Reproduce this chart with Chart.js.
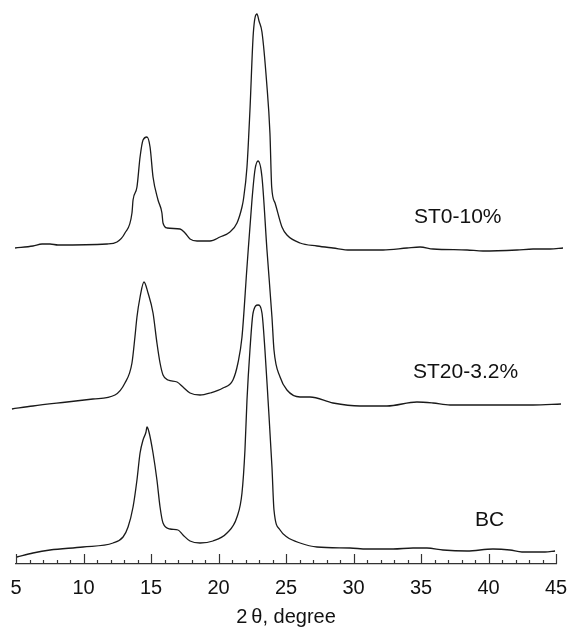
<!DOCTYPE html>
<html>
<head>
<meta charset="utf-8">
<title>XRD patterns - BC, ST20-3.2%, ST0-10%</title>
<script src="https://cdn.jsdelivr.net/npm/chart.js"></script>
<style>
	html, body { margin: 0; padding: 0; background: #fff; }
	#wrap { position: relative; width: 567px; height: 629px; }
</style>
</head>
<body>
<div id="wrap"><canvas id="xrdChart"></canvas></div>
<script>
// 2-theta positions (degree) and stacked intensities (a.u., offset per curve)
const st0Angle = [4.93, 6.26, 6.93, 7.52, 8.11, 11.74, 12.48, 13.07, 13.59, 13.67, 13.96, 14.19, 14.41, 14.70,
	14.93, 15.15, 15.52, 15.81, 15.89, 16.19, 17.15, 17.52, 17.89, 18.41, 19.37, 20.11, 20.85, 21.37,
	21.74, 21.84, 22.11, 22.33, 22.58, 22.85, 23.00, 23.22, 23.57, 23.81, 23.94, 24.19, 24.70, 25.07,
	26.04, 27.30, 28.48, 29.74, 32.19, 33.96, 34.93, 35.89, 38.41, 39.59, 42.11, 43.30, 44.56, 45.52];
const st0Counts = [316, 318, 320, 320, 319, 320, 322, 331, 351, 364, 377, 407, 424, 427,
	417, 387, 364, 351, 341, 336, 335, 331, 325, 323, 323, 327, 332, 341,
	357, 364, 397, 454, 531, 550, 543, 532, 481, 431, 377, 361, 337, 329,
	321, 318, 316, 314, 314, 316, 317, 315, 314, 313, 314, 315, 315, 316];

const st20Angle = [4.70, 6.26, 8.78, 10.70, 12.33, 13.07, 13.59, 13.81, 13.96, 14.19, 14.48, 14.78, 15.15,
	15.44, 15.67, 15.89, 16.26, 16.93, 17.37, 17.89, 18.63, 19.37, 20.33, 21.07, 21.44, 21.74, 22.11,
	22.48, 22.70, 22.93, 23.22, 23.59, 23.96, 24.11, 24.56, 25.07, 26.04, 26.78, 28.48, 30.48, 32.48,
	34.70, 35.89, 37.15, 40.85, 43.30, 45.37];
const st20Counts = [155, 158, 162, 165, 169, 181, 201, 227, 247, 267, 282, 271, 251,
	221, 201, 189, 184, 182, 177, 171, 169, 171, 176, 184, 201, 227, 297,
	364, 394, 403, 387, 314, 247, 214, 187, 174, 167, 167, 161, 158, 158,
	162, 161, 159, 159, 159, 160];

const bcAngle = [5.07, 6.26, 7.52, 9.96, 12.19, 12.93, 13.30, 13.67, 13.96, 14.19, 14.41, 14.63, 14.70, 14.85,
	15.15, 15.44, 15.67, 15.89, 16.41, 17.00, 17.37, 17.89, 18.63, 19.59, 20.63, 21.37, 21.74, 21.96,
	22.11, 22.33, 22.56, 22.93, 23.22, 23.44, 23.67, 23.96, 24.11, 24.56, 25.07, 26.04, 27.30, 29.74,
	31.00, 32.93, 34.41, 35.44, 36.63, 38.41, 40.33, 41.59, 42.48, 44.19, 44.93];
const bcCounts = [7, 11, 14, 17, 21, 27, 37, 57, 84, 111, 124, 132, 137, 132,
	111, 84, 57, 41, 35, 34, 29, 23, 21, 23, 31, 47, 71, 114,
	164, 214, 251, 259, 251, 214, 164, 97, 54, 34, 27, 21, 17, 16,
	15, 15, 16, 16, 14, 13, 15, 14, 12, 12, 13];

const sampleNames = ["ST0-10%", "ST20-3.2%", "BC"];
const xTickLabels = [5, 10, 15, 20, 25, 30, 35, 40, 45];

function toPoints(xs, ys) {
	return xs.map((x, i) => ({ x: x, y: ys[i] }));
}

const curveLabelPlugin = {
	id: "curveLabels",
	afterDraw(chart, args, opts) {
		const { ctx, scales } = chart;
		const xs = scales.x;
		const ys = scales.y;
		ctx.save();

		// inward tick marks on the 2-theta axis
		ctx.strokeStyle = "#333";
		ctx.lineWidth = 1.2;
		const base = ys.getPixelForValue(0);
		for (let t = xs.min; t <= xs.max; t++) {
			const px = Math.round(xs.getPixelForValue(t)) + 0.5;
			const len = t % 5 === 0 ? 10 : 4;
			ctx.beginPath();
			ctx.moveTo(px, base);
			ctx.lineTo(px, base - len);
			ctx.stroke();
		}

		// sample names next to each curve
		ctx.fillStyle = "#111";
		ctx.font = "21px 'Liberation Sans', Arial, sans-serif";
		ctx.textAlign = "left";
		ctx.textBaseline = "middle";
		opts.items.forEach((item, i) => {
			ctx.fillText(sampleNames[i], xs.getPixelForValue(item.at[0]), ys.getPixelForValue(item.at[1]));
		});
		ctx.restore();
	},
};

const lineStyle = {
	borderColor: "#1a1a1a",
	borderWidth: 1.3,
	pointRadius: 0,
	fill: false,
	cubicInterpolationMode: "monotone",
	clip: false,
};

const ctx = document.getElementById("xrdChart").getContext("2d");
new Chart(ctx, {
	type: "line",
	data: {
		datasets: [
			{ label: sampleNames[0], data: toPoints(st0Angle, st0Counts), ...lineStyle },
			{ label: sampleNames[1], data: toPoints(st20Angle, st20Counts), ...lineStyle },
			{ label: sampleNames[2], data: toPoints(bcAngle, bcCounts), ...lineStyle },
		],
	},
	options: {
		responsive: true,
		maintainAspectRatio: false,
		animation: false,
		layout: { padding: { left: 16, right: 11, top: 0, bottom: 0 } },
		scales: {
			x: {
				type: "linear",
				min: 5,
				max: 45,
				afterBuildTicks: (axis) => {
					axis.ticks = xTickLabels.map((v) => ({ value: v }));
				},
				afterFit: (axis) => {
					// keep the plot width fixed, labels may hang over the edges
					axis.paddingLeft = 0;
					axis.paddingRight = 0;
					axis.height = 65;
				},
				grid: { display: false, drawTicks: false },
				border: { display: true, color: "#333", width: 1.2 },
				ticks: {
					padding: 12,
					color: "#111",
					maxRotation: 0,
					autoSkip: false,
					font: { family: "'Liberation Sans', Arial, sans-serif", size: 20 },
				},
				title: {
					display: true,
					text: "2\u2009\u03b8, degree",
					color: "#111",
					padding: { top: 5, bottom: 0 },
					font: { family: "'Liberation Sans', Arial, sans-serif", size: 20 },
				},
			},
			y: {
				display: false,
				min: 0,
				max: 564,
			},
		},
		plugins: {
			legend: { display: false },
			tooltip: { enabled: false },
			curveLabels: {
				items: [
					{ at: [34.48, 347] },
					{ at: [34.41, 192] },
					{ at: [39.0, 44] },
				],
			},
		},
	},
	plugins: [curveLabelPlugin],
});
</script>
</body>
</html>
